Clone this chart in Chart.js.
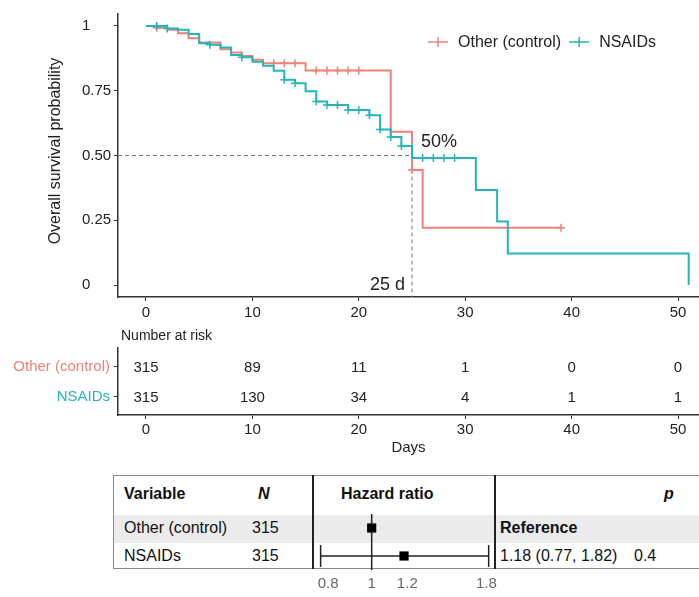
<!DOCTYPE html>
<html>
<head>
<meta charset="utf-8">
<script src="https://cdn.jsdelivr.net/npm/chart.js@4.4.0/dist/chart.umd.min.js"></script>
<style>
  body { margin: 0; background: #fff; font-family: "Liberation Sans", Arial, sans-serif; }
  #wrap { position: relative; width: 699px; height: 597px; overflow: hidden; }
  canvas { position: absolute; }
  .t { position: absolute; font-size: 16px; line-height: 16px; color: #111; white-space: nowrap; }
  .b { font-weight: bold; }
  .bi { font-weight: bold; font-style: italic; }
  #tbl { position: absolute; left: 113px; top: 475px; width: 620px; height: 94px; border: 1px solid #888; box-sizing: border-box; }
  #hdr { position: absolute; left: 0; top: 0; right: 0; height: 39px; border-bottom: 1px solid #666; }
  #row1 { position: absolute; left: 0; top: 39px; right: 0; height: 28px; background: #ebebeb; }
  .sep { position: absolute; top: 475px; width: 2px; height: 94px; background: #222; }
</style>
</head>
<body>
<div id="wrap">
  <canvas id="km" width="699" height="320" style="left:0;top:0"></canvas>
  <canvas id="risk" width="699" height="140" style="left:0;top:320px"></canvas>

  <div id="tbl"><div id="hdr"></div><div id="row1"></div></div>
  <div class="sep" style="left:312px"></div>
  <div class="sep" style="left:494px"></div>

  <span class="t b" style="left:124px;top:486px">Variable</span>
  <span class="t bi" style="left:258px;top:486px">N</span>
  <span class="t b" style="left:341px;top:486px">Hazard ratio</span>
  <span class="t bi" style="left:664px;top:486px">p</span>

  <span class="t" style="left:124px;top:520px">Other (control)</span>
  <span class="t" style="left:252px;top:520px">315</span>
  <span class="t b" style="left:500px;top:520px">Reference</span>

  <span class="t" style="left:124px;top:548px">NSAIDs</span>
  <span class="t" style="left:252px;top:548px">315</span>
  <span class="t" style="left:500px;top:548px">1.18 (0.77, 1.82)</span>
  <span class="t" style="left:634px;top:548px">0.4</span>

  <canvas id="hr" width="233" height="83" style="left:282px;top:514px"></canvas>
</div>

<script>
const FONT = '"Liberation Sans", Arial, sans-serif';
const RED = '#EE827A';
const TEAL = '#23B5B9';

// Kaplan-Meier steps (day, survival after that day)
const otherTimes = [0, 1, 2, 3, 4, 5, 7, 8, 9, 10, 11, 15, 23, 25, 26, 39];
const otherSurv  = [1, 0.993, 0.985, 0.972, 0.952, 0.936, 0.910, 0.897, 0.884, 0.869, 0.856, 0.828, 0.592, 0.444, 0.221, 0.221];
const otherCensor = [1, 12, 13, 14, 16, 17, 18, 19, 20, 25, 39];

const nsaidTimes = [0, 2, 3, 4, 5, 6, 7, 8, 9, 10, 11, 12, 13, 14, 15, 16, 17, 19, 21, 22, 23, 24, 25, 31, 33, 34, 51];
const nsaidSurv  = [1, 0.99, 0.985, 0.969, 0.933, 0.927, 0.917, 0.888, 0.879, 0.862, 0.846, 0.827, 0.792, 0.779, 0.748, 0.708, 0.695, 0.676, 0.655, 0.600, 0.571, 0.537, 0.490, 0.367, 0.245, 0.122, 0];
const nsaidCensor = [1, 2, 6, 9, 13, 14, 16, 17, 18, 19, 20, 21, 22, 23, 24, 26, 27, 28, 29];

const groupNames = ['Other (control)', 'NSAIDs'];
const groupColors = [RED, TEAL];

const xTicks = [0, 10, 20, 30, 40, 50];
const yTicks = [0, 0.25, 0.5, 0.75, 1];
const yTickLabels = ['0', '0.25', '0.50', '0.75', '1'];
const yTitle = 'Overall survival probability';

const medianDay = 25;
const medianSurv = 0.5;

// number at risk
const riskTimes = [0, 10, 20, 30, 40, 50];
const riskOther = [315, 89, 11, 1, 0, 0];
const riskNsaid = [315, 130, 34, 4, 1, 1];

// hazard ratio column
const hrRows = [0, 1];
const hrValues = [1, 1.18];
const hrLow = 0.77;
const hrHigh = 1.82;
const hrTicks = [0.8, 1, 1.2, 1.8];

const X_MIN = -2.63, X_MAX = 51.97;

function survAt(times, surv, t) {
    let s = surv[0];
    for (let i = 0; i < times.length; i++) {
        if (times[i] <= t) s = surv[i];
    }
    return s;
}

function steps(times, surv) {
    return times.map((t, i) => ({ x: t, y: surv[i] }));
}

function censorPts(times, surv, cens) {
    return cens.map(t => ({ x: t, y: survAt(times, surv, t) }));
}

Chart.defaults.font.family = FONT;
Chart.defaults.color = '#222';

const axisGrid = { display: true, drawOnChartArea: false, drawTicks: true, tickLength: 4, tickColor: '#333', tickWidth: 1 };
const axisBorder = { display: true, color: '#333', width: 1.5 };

// ---- dashed median lines, annotations, y title and legend ----
const kmExtras = {
    id: 'kmExtras',
    beforeDatasetsDraw(chart) {
        const { ctx, chartArea, scales: { x, y } } = chart;
        const px = x.getPixelForValue(medianDay);
        const py = y.getPixelForValue(medianSurv);
        ctx.save();
        ctx.strokeStyle = '#777';
        ctx.lineWidth = 1;
        ctx.setLineDash([4, 3]);
        ctx.beginPath();
        ctx.moveTo(chartArea.left, py);
        ctx.lineTo(px, py);
        ctx.moveTo(px, py);
        ctx.lineTo(px, chartArea.bottom);
        ctx.stroke();
        ctx.restore();
    },
    afterDatasetsDraw(chart) {
        const { ctx, chartArea, scales: { x, y } } = chart;
        const px = x.getPixelForValue(medianDay);
        const py = y.getPixelForValue(medianSurv);
        ctx.save();
        ctx.fillStyle = '#222';
        ctx.font = '18px ' + FONT;
        ctx.textBaseline = 'middle';
        ctx.textAlign = 'left';
        ctx.fillText('50%', px + 9, py - 13);
        ctx.textAlign = 'right';
        ctx.fillText('25 d', px - 7, chartArea.bottom - 12);

        // y axis title
        ctx.save();
        ctx.translate(56, 151);
        ctx.rotate(-Math.PI / 2);
        ctx.font = '16px ' + FONT;
        ctx.textAlign = 'center';
        ctx.fillText(yTitle, 0, 0);
        ctx.restore();

        // legend
        let lx = 428;
        const ly = 42;
        ctx.font = '16px ' + FONT;
        ctx.textAlign = 'left';
        groupNames.forEach((name, i) => {
            ctx.strokeStyle = groupColors[i];
            ctx.lineWidth = 1.5;
            ctx.beginPath();
            ctx.moveTo(lx, ly);
            ctx.lineTo(lx + 20, ly);
            ctx.moveTo(lx + 10, ly - 5);
            ctx.lineTo(lx + 10, ly + 5);
            ctx.stroke();
            ctx.fillStyle = '#222';
            ctx.fillText(name, lx + 30, ly + 1);
            lx += 30 + ctx.measureText(name).width + 8;
        });
        ctx.restore();
    }
};

new Chart(document.getElementById('km'), {
    data: {
        datasets: [
            { type: 'scatter', data: censorPts(nsaidTimes, nsaidSurv, nsaidCensor), pointStyle: 'cross', pointRadius: 4, borderColor: TEAL, borderWidth: 1.5 },
            { type: 'line', data: steps(nsaidTimes, nsaidSurv), stepped: true, borderColor: TEAL, borderWidth: 2, pointRadius: 0, fill: false },
            { type: 'scatter', data: censorPts(otherTimes, otherSurv, otherCensor), pointStyle: 'cross', pointRadius: 4, borderColor: RED, borderWidth: 1.5 },
            { type: 'line', data: steps(otherTimes, otherSurv), stepped: true, borderColor: RED, borderWidth: 2, pointRadius: 0, fill: false }
        ]
    },
    options: {
        responsive: false,
        animation: false,
        layout: { autoPadding: false, padding: { left: 82, top: 14, right: 0, bottom: 0 } },
        plugins: { legend: { display: false }, tooltip: { enabled: false } },
        scales: {
            x: {
                type: 'linear', min: X_MIN, max: X_MAX,
                afterBuildTicks: s => { s.ticks = xTicks.map(v => ({ value: v })); },
                afterFit: s => { s.height = 23; },
                grid: axisGrid, border: axisBorder,
                ticks: { font: { size: 15 }, color: '#222', padding: 3, maxRotation: 0, autoSkip: false }
            },
            y: {
                type: 'linear', min: -0.046, max: 1.046,
                afterBuildTicks: s => { s.ticks = yTicks.map(v => ({ value: v })); },
                afterFit: s => { s.width = 36; },
                grid: axisGrid, border: axisBorder,
                ticks: { font: { size: 15 }, color: '#222', padding: 4, crossAlign: 'far',
                         callback: v => yTickLabels[yTicks.indexOf(v)] }
            }
        }
    },
    plugins: [kmExtras]
});

// ---- number at risk table ----
const riskText = {
    id: 'riskText',
    afterDatasetsDraw(chart) {
        const { ctx, chartArea } = chart;
        ctx.save();
        ctx.fillStyle = '#222';
        ctx.font = '14px ' + FONT;
        ctx.textAlign = 'left';
        ctx.textBaseline = 'middle';
        ctx.fillText('Number at risk', chartArea.left + 3, chartArea.top - 12);
        ctx.font = '15px ' + FONT;
        ctx.textAlign = 'center';
        [riskOther, riskNsaid].forEach((vals, di) => {
            chart.getDatasetMeta(di).data.forEach((pt, i) => {
                ctx.fillText(String(vals[i]), pt.x, pt.y + 1);
            });
        });
        ctx.restore();
    }
};

new Chart(document.getElementById('risk'), {
    type: 'scatter',
    data: {
        datasets: [
            { data: riskTimes.map(t => ({ x: t, y: 0 })), pointRadius: 0 },
            { data: riskTimes.map(t => ({ x: t, y: 1 })), pointRadius: 0 }
        ]
    },
    options: {
        responsive: false,
        animation: false,
        layout: { autoPadding: false, padding: { left: 0, top: 28, right: 0, bottom: 0 } },
        plugins: { legend: { display: false }, tooltip: { enabled: false } },
        scales: {
            x: {
                type: 'linear', min: X_MIN, max: X_MAX,
                afterBuildTicks: s => { s.ticks = xTicks.map(v => ({ value: v })); },
                afterFit: s => { s.height = 45; },
                grid: axisGrid, border: axisBorder,
                ticks: { font: { size: 15 }, color: '#222', padding: 2, maxRotation: 0, autoSkip: false },
                title: { display: true, text: 'Days', font: { size: 15 }, color: '#222', padding: { top: 0, bottom: 3 } }
            },
            y: {
                type: 'linear', min: -0.62, max: 1.61, reverse: true,
                afterBuildTicks: s => { s.ticks = [0, 1].map(v => ({ value: v })); },
                afterFit: s => { s.width = 118; },
                grid: axisGrid, border: axisBorder,
                ticks: { font: { size: 15 }, padding: 4, crossAlign: 'near',
                         color: c => groupColors[c.index] || '#222',
                         callback: v => groupNames[v] }
            }
        }
    },
    plugins: [riskText]
});

// ---- hazard ratio forest column ----
new Chart(document.getElementById('hr'), {
    data: {
        datasets: [
            { type: 'scatter', data: hrRows.map((r, i) => ({ x: hrValues[i], y: r })), pointStyle: 'rect', pointRadius: 6.5, backgroundColor: '#000', borderColor: '#000', borderWidth: 0 },
            { type: 'line', data: [{ x: hrLow, y: 1 }, { x: hrHigh, y: 1 }], borderColor: '#222', borderWidth: 1.5,
              pointStyle: 'line', rotation: 90, pointRadius: 11, pointBorderColor: '#222', pointBorderWidth: 1.5 },
            { type: 'line', data: [{ x: 1, y: -0.5 }, { x: 1, y: 1.5 }], borderColor: '#222', borderWidth: 1.5, pointRadius: 0 }
        ]
    },
    options: {
        responsive: false,
        animation: false,
        layout: { autoPadding: false, padding: { left: 20, right: 20, top: 0, bottom: 0 } },
        plugins: { legend: { display: false }, tooltip: { enabled: false } },
        scales: {
            x: {
                type: 'logarithmic', min: 0.745, max: 1.88,
                afterBuildTicks: s => { s.ticks = hrTicks.map(v => ({ value: v })); },
                afterFit: s => { s.height = 27; },
                grid: { display: false }, border: { display: false },
                ticks: { font: { size: 15 }, color: '#666', padding: -3, maxRotation: 0, autoSkip: false,
                         callback: v => String(v) }
            },
            y: { type: 'linear', min: -0.5, max: 1.5, reverse: true, display: false }
        }
    }
});
</script>
</body>
</html>
